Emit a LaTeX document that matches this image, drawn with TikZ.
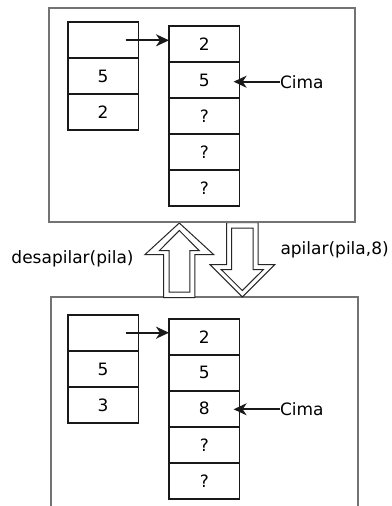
\documentclass[tikz,border=0pt]{standalone}
\usepackage{fontspec}
\setmainfont{DejaVu Sans}
\usetikzlibrary{arrows.meta}
\begin{document}
\begin{tikzpicture}[x=1pt,y=-1pt,
  frame/.style={draw=black!55, line width=1.1pt},
  cell/.style={draw=black!90, line width=1.6pt, minimum width=70.6pt,
    minimum height=36pt, inner sep=0pt, outer sep=0pt, anchor=north west,
    font=\fontsize{17}{20}\selectfont},
  lbl/.style={font=\fontsize{17}{20}\selectfont, inner sep=0pt, outer sep=0pt},
  ptr/.style={draw=black!90, line width=1.7pt,
    -{Stealth[length=13pt,width=12pt,inset=4pt]}},
  blk/.style={draw=black!85, line width=1pt, fill=white, line join=miter},
  blkin/.style={draw=black!85, line width=1pt, line join=miter}
]
\useasboundingbox (0,0) rectangle (391,506);
\fill[white] (0,0) rectangle (391,506);

% frames
\draw[frame] (49,8) rectangle (355,222);
\draw[frame] (51,506.5) -- (51,297) -- (358,297) -- (358,506.5);

% ---- top state ----
\node[cell] (tl1) at (67.7,22) {};
\node[cell] (tl2) at (67.7,58) {5};
\node[cell] (tl3) at (67.7,94) {2};
\node[cell] (tr1) at (169,26) {2};
\node[cell] (tr2) at (169,62) {5};
\node[cell] (tr3) at (169,98) {?};
\node[cell] (tr4) at (169,134) {?};
\node[cell] (tr5) at (169,170) {?};
\coordinate (tp) at (125.7,40.3);
\draw[ptr] (tp) -- (tp -| tr1.west);
\node[lbl, anchor=west] (tcima) at (280,81.7) {Cima};
\draw[ptr, shorten >=-6pt] (tcima.west) -- (tcima.west -| tr2.east);

% ---- bottom state ----
\node[cell] (bl1) at (67.7,315) {};
\node[cell] (bl2) at (67.7,351) {5};
\node[cell] (bl3) at (67.7,387) {3};
\node[cell] (br1) at (169,318.7) {2};
\node[cell] (br2) at (169,354.7) {5};
\node[cell] (br3) at (169,390.7) {8};
\node[cell] (br4) at (169,426.7) {?};
\node[cell] (br5) at (169,462.7) {?};
\coordinate (bp) at (125.7,332.7);
\draw[ptr] (bp) -- (bp -| br1.west);
\node[lbl, anchor=west] (bcima) at (280,409.3) {Cima};
\draw[ptr, shorten >=-6pt] (bcima.west) -- (bcima.west -| br3.east);

% ---- block arrows ----
% up (desapilar)
\draw[blk] (179.3,223) -- (145,254.5) -- (163.5,254.5) -- (163.5,297.5)
  -- (194.8,297.5) -- (194.8,254.5) -- (213.6,254.5) -- cycle;
\draw[blkin] (179.3,230.5) -- (159.5,250.5) -- (169,250.5) -- (169,292)
  -- (189.8,292) -- (189.8,250.5) -- (199.1,250.5) -- cycle;
% down (apilar)
\draw[blk] (226.7,222.5) -- (258,222.5) -- (258,264.7) -- (274.7,264.7)
  -- (242.3,297) -- (210,264.7) -- (226.7,264.7) -- cycle;
\draw[blkin] (231.7,228) -- (253,228) -- (253,269.5) -- (263.5,269.5)
  -- (242.3,290.5) -- (221.2,269.5) -- (231.7,269.5) -- cycle;
\draw[frame] (49,222) -- (355,222);

% labels
\node[lbl, anchor=base west] (ldes) at (11.5,263) {desapilar(pila)};
\node[lbl, anchor=base west] (lapi) at (280.5,254) {apilar(pila,8)};
\end{tikzpicture}
\end{document}
